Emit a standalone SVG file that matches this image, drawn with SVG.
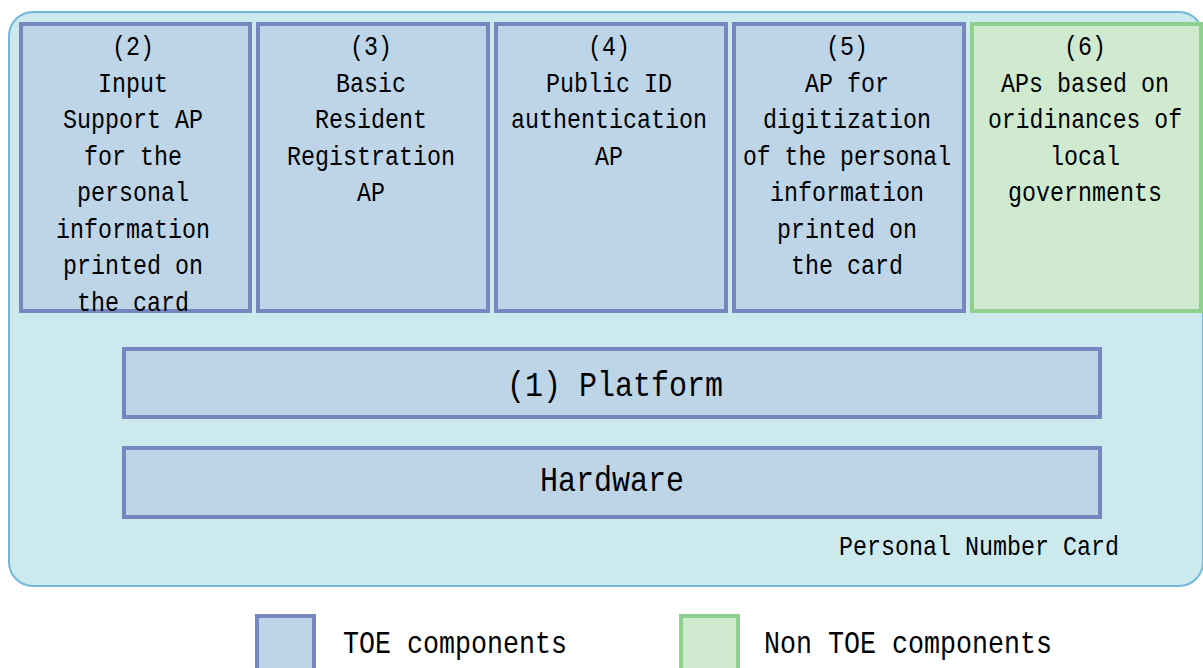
<svg xmlns="http://www.w3.org/2000/svg" width="1203" height="668" viewBox="0 0 1203 668">
  <style>
    .card { fill: #cceaee; stroke: #72b7da; stroke-width: 2; }
    .toe { fill: #bed5e8; stroke: #7687bf; stroke-width: 4; }
    .ntoe { fill: #cfeacf; stroke: #8fd08f; stroke-width: 4; }
    text { font-family: "Liberation Mono", "DejaVu Sans Mono", monospace; fill: #000; text-anchor: middle; }
    .s { font-size: 28px; }
    .b { font-size: 35px; }
    .l { font-size: 32px; text-anchor: start; }
  </style>

  <!-- card outline -->
  <g id="card">
    <rect class="card" x="9" y="12" width="1194" height="574" rx="24" ry="24"/>
    <text class="s" x="839" y="555" textLength="280" lengthAdjust="spacingAndGlyphs" style="text-anchor:start">Personal Number Card</text>
  </g>

  <!-- application boxes -->
  <g id="ap2">
    <rect class="toe" x="21" y="24" width="229" height="287"/>
    <text class="s" x="133" y="55" textLength="42" lengthAdjust="spacingAndGlyphs">(2)</text>
    <text class="s" x="133" y="91.5" textLength="70" lengthAdjust="spacingAndGlyphs">Input</text>
    <text class="s" x="133" y="128" textLength="140" lengthAdjust="spacingAndGlyphs">Support AP</text>
    <text class="s" x="133" y="164.5" textLength="98" lengthAdjust="spacingAndGlyphs">for the</text>
    <text class="s" x="133" y="201" textLength="112" lengthAdjust="spacingAndGlyphs">personal</text>
    <text class="s" x="133" y="237.5" textLength="154" lengthAdjust="spacingAndGlyphs">information</text>
    <text class="s" x="133" y="274" textLength="140" lengthAdjust="spacingAndGlyphs">printed on</text>
    <text class="s" x="133" y="310.5" textLength="112" lengthAdjust="spacingAndGlyphs">the card</text>
  </g>

  <g id="ap3">
    <rect class="toe" x="258" y="24" width="230" height="287"/>
    <text class="s" x="371" y="55" textLength="42" lengthAdjust="spacingAndGlyphs">(3)</text>
    <text class="s" x="371" y="91.5" textLength="70" lengthAdjust="spacingAndGlyphs">Basic</text>
    <text class="s" x="371" y="128" textLength="112" lengthAdjust="spacingAndGlyphs">Resident</text>
    <text class="s" x="371" y="164.5" textLength="168" lengthAdjust="spacingAndGlyphs">Registration</text>
    <text class="s" x="371" y="201" textLength="28" lengthAdjust="spacingAndGlyphs">AP</text>
  </g>

  <g id="ap4">
    <rect class="toe" x="496" y="24" width="230" height="287"/>
    <text class="s" x="609" y="55" textLength="42" lengthAdjust="spacingAndGlyphs">(4)</text>
    <text class="s" x="609" y="91.5" textLength="126" lengthAdjust="spacingAndGlyphs">Public ID</text>
    <text class="s" x="609" y="128" textLength="196" lengthAdjust="spacingAndGlyphs">authentication</text>
    <text class="s" x="609" y="164.5" textLength="28" lengthAdjust="spacingAndGlyphs">AP</text>
  </g>

  <g id="ap5">
    <rect class="toe" x="734" y="24" width="230" height="287"/>
    <text class="s" x="847" y="55" textLength="42" lengthAdjust="spacingAndGlyphs">(5)</text>
    <text class="s" x="847" y="91.5" textLength="84" lengthAdjust="spacingAndGlyphs">AP for</text>
    <text class="s" x="847" y="128" textLength="168" lengthAdjust="spacingAndGlyphs">digitization</text>
    <text class="s" x="847" y="164.5" textLength="208" lengthAdjust="spacingAndGlyphs">of the personal</text>
    <text class="s" x="847" y="201" textLength="154" lengthAdjust="spacingAndGlyphs">information</text>
    <text class="s" x="847" y="237.5" textLength="140" lengthAdjust="spacingAndGlyphs">printed on</text>
    <text class="s" x="847" y="274" textLength="112" lengthAdjust="spacingAndGlyphs">the card</text>
  </g>

  <g id="ap6">
    <rect class="ntoe" x="972" y="24" width="229" height="287"/>
    <text class="s" x="1085" y="55" textLength="42" lengthAdjust="spacingAndGlyphs">(6)</text>
    <text class="s" x="1085" y="91.5" textLength="168" lengthAdjust="spacingAndGlyphs">APs based on</text>
    <text class="s" x="1085" y="128" textLength="194" lengthAdjust="spacingAndGlyphs">oridinances of</text>
    <text class="s" x="1085" y="164.5" textLength="70" lengthAdjust="spacingAndGlyphs">local</text>
    <text class="s" x="1085" y="201" textLength="154" lengthAdjust="spacingAndGlyphs">governments</text>
  </g>

  <!-- lower layers -->
  <g id="platform">
    <rect class="toe" x="124" y="349" width="976" height="68"/>
    <text class="b" x="615" y="396" textLength="216" lengthAdjust="spacingAndGlyphs">(1) Platform</text>
  </g>

  <g id="hardware">
    <rect class="toe" x="124" y="448" width="976" height="69"/>
    <text class="b" x="612" y="491" textLength="144" lengthAdjust="spacingAndGlyphs">Hardware</text>
  </g>

  <!-- no connectors in this layer diagram -->
  <g id="connectors"/>

  <!-- legend -->
  <g id="legend-toe">
    <rect class="toe" x="257" y="616" width="57" height="60"/>
    <text class="l" x="343" y="653" textLength="224" lengthAdjust="spacingAndGlyphs">TOE components</text>
  </g>
  <g id="legend-ntoe">
    <rect class="ntoe" x="681" y="616" width="57" height="60"/>
    <text class="l" x="764" y="653" textLength="288" lengthAdjust="spacingAndGlyphs">Non TOE components</text>
  </g>
</svg>
